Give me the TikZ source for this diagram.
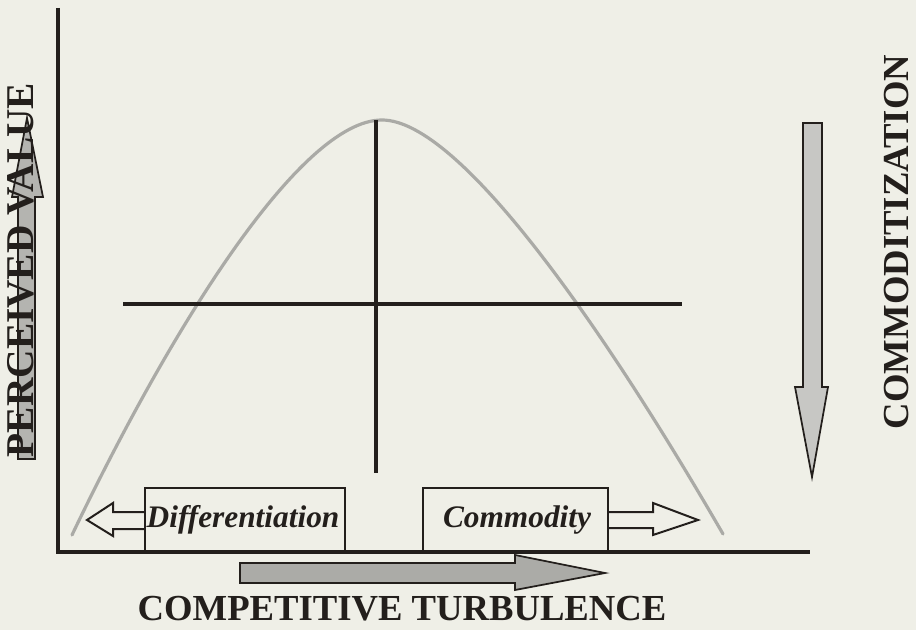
\documentclass[tikz,border=0pt]{standalone}
\usepackage{fontspec}
\setmainfont{Liberation Serif}
\definecolor{paper}{RGB}{239,239,231}
\definecolor{ink}{RGB}{35,31,28}
\definecolor{bellgray}{RGB}{170,170,166}
\definecolor{arrowgray}{RGB}{180,180,176}
\tikzset{every picture/.style={line width=0.75pt}}
\tikzset{
  axislabel/.style={inner sep=0.75pt, text=ink, font=\fontsize{27.5}{30}\selectfont\bfseries},
  boxlabel/.style={inner sep=0.75pt, text=ink, font=\fontsize{23.5}{26}\selectfont\bfseries\itshape},
  blockarrow/.style={draw=ink, line width=1.3pt, fill=arrowgray, line join=miter},
  openarrow/.style={draw=ink, line width=1.5pt, fill=paper, line join=miter}
}

\begin{document}
\begin{tikzpicture}[x=0.75pt,y=0.75pt,yscale=-1,xscale=1]
%Background [id:bg]
\fill[paper] (0,0) rectangle (916,630);
\useasboundingbox (0,0) rectangle (916,630);

%Shape: Bell Curve [id:bell]
\draw [color=bellgray, line width=2.4pt, line cap=round]  (72,535) .. controls (170,330) and (300,120) .. (382,120) .. controls (460,120) and (605,330) .. (723,534) ;

%Shape: Axis 2D [id:axes]
\draw [color=ink, line width=3pt]  (58,8) -- (58,552) -- (810,552) ;

%Straight Lines [id:quadv]
\draw [color=ink, line width=2.4pt]  (376,120) -- (376,473) ;
%Straight Lines [id:quadh]
\draw [color=ink, line width=2.4pt]  (123,304) -- (682,304) ;

%Shape: Up Arrow [id:valuearrow]
\draw [blockarrow]  (18,459) -- (18,197) -- (12,197) -- (27,118) -- (43,197) -- (35,197) -- (35,459) -- cycle ;
%Shape: Down Arrow [id:commarrow]
\draw [blockarrow, fill=arrowgray!75]  (803,123) -- (822,123) -- (822,387) -- (828,387) -- (812,477) -- (795,387) -- (803,387) -- cycle ;
%Shape: Right Arrow [id:turbarrow]
\draw [blockarrow, fill=arrowgray!95!black]  (240,563) -- (515,563) -- (515,555) -- (605,573) -- (515,590) -- (515,583) -- (240,583) -- cycle ;

%Shape: Left Arrow [id:diffarrow]
\draw [openarrow]  (145,512) -- (113,512) -- (113,503) -- (87,520) -- (113,536) -- (113,529) -- (145,529) ;
%Shape: Right Arrow [id:commodarrow]
\draw [openarrow]  (608,512) -- (653,512) -- (653,503) -- (698,520) -- (653,535) -- (653,528) -- (608,528) ;

%Shape: Rectangle [id:diffbox]
\draw [color=ink, line width=1.5pt, fill=paper]  (145,552) -- (145,488) -- (345,488) -- (345,552) ;
%Shape: Rectangle [id:commodbox]
\draw [color=ink, line width=1.5pt, fill=paper]  (423,552) -- (423,488) -- (608,488) -- (608,552) ;
\draw [color=ink, line width=3pt]  (140,552) -- (615,552) ;

% Text Node
\node [axislabel, font=\fontsize{29.5}{32}\selectfont\bfseries, rotate=90] (value) at (21,270) {PERCEIVED VALUE};
% Text Node
\node [axislabel, rotate=90] (commoditization) at (897,242) {COMMODITIZATION};
% Text Node
\node [axislabel] (turbulence) at (402,609) {COMPETITIVE TURBULENCE};
% Text Node
\node [boxlabel] (differentiation) at (243,520) {Differentiation};
% Text Node
\node [boxlabel] (commodity) at (517,520) {Commodity};

\end{tikzpicture}
\end{document}
